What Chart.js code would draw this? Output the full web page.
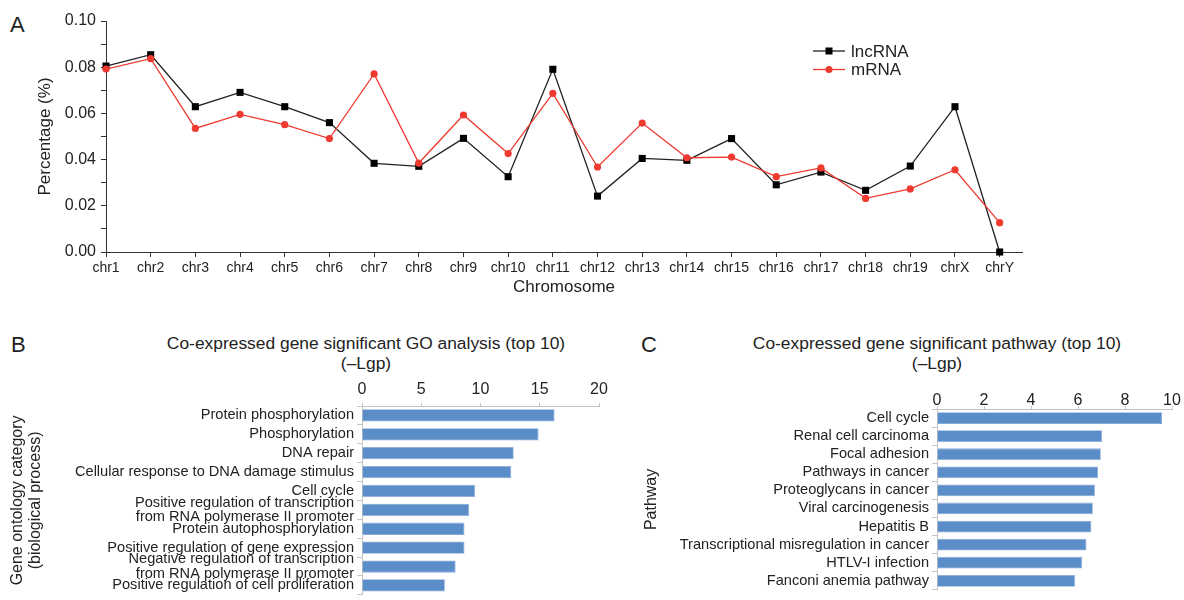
<!DOCTYPE html>
<html>
<head>
<meta charset="utf-8">
<script src="https://cdn.jsdelivr.net/npm/chart.js@4.4.1/dist/chart.umd.min.js"></script>
<style>
html, body { margin: 0; padding: 0; width: 1184px; height: 600px; overflow: hidden; background: #fff; font-family: "Liberation Sans", Arial, sans-serif; color: #222; }
canvas { position: absolute; }
.letter { position: absolute; font-size: 22px; line-height: 26px; }
.ttl { position: absolute; font-size: 17.4px; line-height: 20px; text-align: center; white-space: nowrap; transform: translateX(-50%); }
</style>
</head>
<body>
<div class="letter" style="left:10px;top:12px">A</div>
<div class="letter" style="left:11px;top:332px">B</div>
<div class="letter" style="left:641px;top:332px">C</div>
<div class="ttl" style="left:366px;top:333px">Co-expressed gene significant GO analysis (top 10)<br>(–Lgp)</div>
<div class="ttl" style="left:937px;top:333px">Co-expressed gene significant pathway (top 10)<br>(–Lgp)</div>

<canvas id="chartA" width="1184" height="300" style="left:0;top:0"></canvas>
<canvas id="chartB" width="620" height="285" style="left:0;top:320px"></canvas>
<canvas id="chartC" width="564" height="280" style="left:620px;top:320px"></canvas>

<script>
// panel A: share of genes per chromosome
const chromosomes = ['chr1', 'chr2', 'chr3', 'chr4', 'chr5', 'chr6', 'chr7', 'chr8', 'chr9', 'chr10',
   'chr11', 'chr12', 'chr13', 'chr14', 'chr15', 'chr16', 'chr17', 'chr18', 'chr19', 'chrX', 'chrY'];
const lncRNA = [0.0805, 0.0854, 0.0629, 0.0691, 0.0629, 0.0560, 0.0384, 0.0371, 0.0492, 0.0326,
   0.0791, 0.0242, 0.0405, 0.0397, 0.0491, 0.0291, 0.0346, 0.0267, 0.0372, 0.0629, 0.0];
const mRNA = [0.0792, 0.0837, 0.0535, 0.0596, 0.0551, 0.0491, 0.0771, 0.0385, 0.0593, 0.0426,
   0.0687, 0.0368, 0.0558, 0.0408, 0.0411, 0.0326, 0.0364, 0.0232, 0.0273, 0.0356, 0.0127];

// panel B: GO terms (-Lgp)
const goTerms = [
   'Protein phosphorylation',
   'Phosphorylation',
   'DNA repair',
   'Cellular response to DNA damage stimulus',
   'Cell cycle',
   ['Positive regulation of transcription', 'from RNA polymerase II promoter'],
   'Protein autophosphorylation',
   'Positive regulation of gene expression',
   ['Negative regulation of transcription', 'from RNA polymerase II promoter'],
   'Positive regulation of cell proliferation'
];
const goValues = [16.25, 14.9, 12.8, 12.6, 9.55, 9.04, 8.65, 8.65, 7.9, 6.99];
const goTicks = [0, 5, 10, 15, 20];

// panel C: pathways (-Lgp)
const pathways = [
   'Cell cycle',
   'Renal cell carcinoma',
   'Focal adhesion',
   'Pathways in cancer',
   'Proteoglycans in cancer',
   'Viral carcinogenesis',
   'Hepatitis B',
   'Transcriptional misregulation in cancer',
   'HTLV-I infection',
   'Fanconi anemia pathway'
];
const pathValues = [9.58, 7.02, 6.97, 6.85, 6.72, 6.63, 6.57, 6.36, 6.18, 5.87];
const pathTicks = [0, 2, 4, 6, 8, 10];

const FONT = '"Liberation Sans", Arial, sans-serif';
Chart.defaults.font.family = FONT;
Chart.defaults.color = '#222';

const barColor = '#5b8dc8';
const axisGrey = '#c4c4c4';

// legend with line + marker, like the original plot
const lineLegend = {
   id: 'lineLegend',
   afterDraw(chart) {
      const ctx = chart.ctx;
      chart.data.datasets.forEach((ds, i) => {
         const y = 51 + i * 18.5;
         ctx.save();
         ctx.strokeStyle = ds.borderColor;
         ctx.lineWidth = ds.borderWidth;
         ctx.beginPath();
         ctx.moveTo(813, y);
         ctx.lineTo(845, y);
         ctx.stroke();
         ctx.fillStyle = ds.pointBackgroundColor;
         if (ds.pointStyle === 'rect') {
            ctx.fillRect(825.5, y - 3.5, 7, 7);
         } else {
            ctx.beginPath();
            ctx.arc(829, y, 3.5, 0, Math.PI * 2);
            ctx.fill();
         }
         ctx.fillStyle = '#222';
         ctx.font = '17px ' + FONT;
         ctx.textBaseline = 'middle';
         ctx.fillText(ds.label, 851, y + 1);
         ctx.restore();
      });
   }
};

new Chart(document.getElementById('chartA').getContext('2d'), {
   type: 'line',
   data: {
      datasets: [
         {
            label: 'lncRNA',
            data: lncRNA.map((v, i) => ({ x: i, y: v })),
            borderColor: '#222',
            borderWidth: 1.3,
            pointStyle: 'rect',
            pointRadius: 5,
            pointBackgroundColor: '#000',
            pointBorderWidth: 0,
            clip: false,
            order: 1
         },
         {
            label: 'mRNA',
            data: mRNA.map((v, i) => ({ x: i, y: v })),
            borderColor: '#ee3a2f',
            borderWidth: 1.3,
            pointStyle: 'circle',
            pointRadius: 3.6,
            pointBackgroundColor: '#ee3a2f',
            pointBorderWidth: 0,
            clip: false,
            order: 0
         }
      ]
   },
   options: {
      responsive: false,
      animation: false,
      layout: { padding: { top: 21, right: 162, bottom: 0, left: 0 } },
      plugins: { legend: { display: false }, tooltip: { enabled: false } },
      scales: {
         x: {
            type: 'linear',
            min: 0,
            max: 20.5,
            ticks: {
               stepSize: 1,
               includeBounds: false,
               autoSkip: false,
               maxRotation: 0,
               padding: 3,
               font: { size: 14 },
               callback: v => chromosomes[v] || ''
            },
            grid: { drawOnChartArea: false, tickLength: 5, color: '#333' },
            border: { color: '#333' },
            title: { display: true, text: 'Chromosome', font: { size: 17 }, padding: { top: 0, bottom: 2 } },
            afterFit: s => { s.height = 48; }
         },
         y: {
            min: 0,
            max: 0.1,
            ticks: {
               stepSize: 0.01,
               padding: 5,
               font: { size: 16 },
               callback: (v, i) => i % 2 === 0 ? v.toFixed(2) : ''
            },
            grid: { drawOnChartArea: false, tickLength: 5, color: '#333' },
            border: { color: '#333' },
            title: { display: true, text: 'Percentage (%)', font: { size: 17 }, padding: { top: 35 } },
            afterFit: s => { s.width = 106; }
         }
      }
   },
   plugins: [lineLegend]
});

function barChart(id, labels, values, ticks, yTitle, axisW, axisH, padRight, titlePad, tickPad) {
   return new Chart(document.getElementById(id).getContext('2d'), {
      type: 'bar',
      data: {
         labels: labels,
         datasets: [{
            data: values,
            backgroundColor: barColor,
            borderColor: '#86aad8',
            borderWidth: 0.8,
            barPercentage: 0.65,
            categoryPercentage: 1
         }]
      },
      options: {
         indexAxis: 'y',
         responsive: false,
         animation: false,
         layout: { padding: { top: 0, right: padRight, bottom: 2, left: 0 } },
         plugins: { legend: { display: false }, tooltip: { enabled: false } },
         scales: {
            x: {
               position: 'top',
               min: ticks[0],
               max: ticks[ticks.length - 1],
               ticks: { stepSize: ticks[1] - ticks[0], padding: tickPad, font: { size: 16 } },
               grid: { drawOnChartArea: false, tickLength: 3, color: axisGrey },
               border: { color: axisGrey },
               afterFit: s => { s.height = axisH; }
            },
            y: {
               ticks: { autoSkip: false, padding: 3, font: { size: 14.6, lineHeight: 0.98 } },
               grid: { drawOnChartArea: false, tickLength: 5, color: axisGrey, offset: true },
               border: { color: axisGrey },
               title: { display: true, text: yTitle, font: { size: 16, lineHeight: 1.15 }, padding: { top: titlePad } },
               afterFit: s => { s.width = axisW; }
            }
         }
      }
   });
}

barChart('chartB', goTerms, goValues, goTicks, ['Gene ontology category', '(biological process)'], 362, 86, 21, 8, 4);
barChart('chartC', pathways, pathValues, pathTicks, 'Pathway', 317, 89, 12, 22, -4);
</script>
</body>
</html>
